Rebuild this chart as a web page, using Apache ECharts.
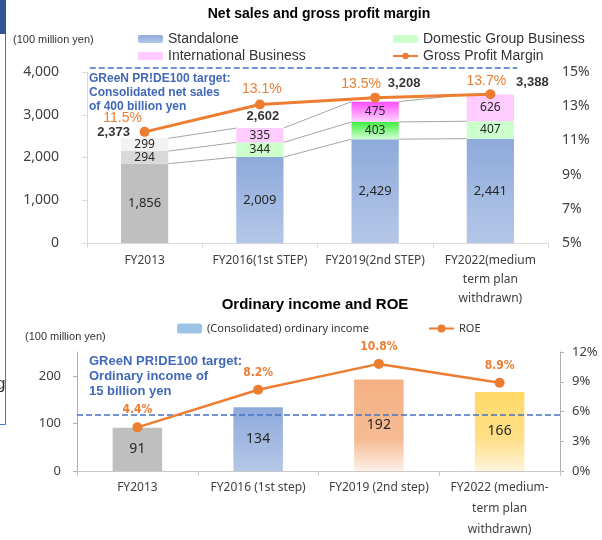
<!DOCTYPE html>
<html>
<head>
<meta charset="utf-8">
<script src="https://cdn.jsdelivr.net/npm/echarts@6/dist/echarts.min.js"></script>
<style>
html, body { margin: 0; padding: 0; background: #fff; }
#main { width: 602px; height: 540px; }
</style>
</head>
<body>
<div id="main"></div>
<script>
var salesYears = ['FY2013', 'FY2016(1st STEP)', 'FY2019(2nd STEP)', 'FY2022(medium\nterm plan\nwithdrawn)'];
var incomeYears = ['FY2013', 'FY2016 (1st step)', 'FY2019 (2nd step)', 'FY2022 (medium-\nterm plan\nwithdrawn)'];
var standalone = [1856, 2009, 2429, 2441];
var domestic = [294, 344, 403, 407];
var international = [299, 335, 475, 626];
var salesTotals = [2373, 2602, 3208, 3388];
var grossMargin = [11.5, 13.1, 13.5, 13.7];
var salesTarget = 4000;
var ordinaryIncome = [91, 134, 192, 166];
var roe = [4.4, 8.2, 10.8, 8.9];
var incomeTargetLine = 118;

var dom = document.getElementById('main');
var myChart = echarts.init(dom);

function grad(top, bottom, mid) {
	var stops = [{ offset: 0, color: top }];
	if (mid) stops.push({ offset: mid[0], color: mid[1] });
	stops.push({ offset: 1, color: bottom });
	return new echarts.graphic.LinearGradient(0, 0, 0, 1, stops);
}
function fmt(v) {
	return v.toLocaleString('en-US');
}

var blue = grad('#8eaadb', '#b4c7e7');
var standaloneColors = ['#bfbfbf', blue, blue, blue];
var domesticColors = ['#d9d9d9', '#ccffcc', grad('#3fee3f', '#d2ffd2'), '#ccffcc'];
var internationalColors = ['#f2f2f2', '#ffccff', grad('#ff4dff', '#ffd6ff'), '#ffccff'];
var incomeColors = ['#bfbfbf', grad('#8eaadb', '#b4c7e7'),
	grad('#f4b183', '#fdf0e8', [0.65, '#f6bb94']), grad('#ffd966', '#fff4dc', [0.6, '#ffe08a'])];

var totalOffsets = [[-31, 6], [3, 0], [29, -6], [42, 0]];
var marginOffsets = [[-22, 3], [2, 2], [-14, 3], [-4, 4]];

function colored(values, colors) {
	return values.map(function (v, i) {
		return { value: v, itemStyle: { color: colors[i] } };
	});
}

var connectorData = [];
for (var k = 0; k < standalone.length - 1; k++) connectorData.push([k, 0]);

// thin grey lines joining the stacked segments, drawn edge to edge
function renderConnectors(params, api) {
	var i = api.value(0);
	var half = api.size([1, 0])[0] * 0.205;
	var cumA = 0, cumB = 0;
	var children = [];
	[standalone, domestic, international].forEach(function (arr) {
		cumA += arr[i];
		cumB += arr[i + 1];
		var p1 = api.coord([i, cumA]);
		var p2 = api.coord([i + 1, cumB]);
		children.push({
			type: 'line',
			shape: { x1: p1[0] + half, y1: p1[1], x2: p2[0] - half, y2: p2[1] },
			style: { stroke: '#a6a6a6', lineWidth: 1 }
		});
	});
	return { type: 'group', children: children };
}

function renderTarget(params, api) {
	var band = api.size([1, 0])[0];
	var p1 = api.coord([0, api.value(1)]);
	var p2 = api.coord([salesYears.length - 1, api.value(1)]);
	return {
		type: 'line',
		shape: { x1: p1[0] - band * 0.476, y1: p1[1] - 4, x2: p2[0] + band * 0.234, y2: p2[1] - 4 },
		style: { stroke: '#4472c4', lineWidth: 1.5, lineDash: [6, 3] }
	};
}

var axisGray = '#d9d9d9';
var labelColor = '#404040';

option = {
	backgroundColor: '#ffffff',
	animation: false,
	textStyle: { fontFamily: 'Liberation Sans' },
	grid: [
		{ left: 87, right: 54, top: 72, bottom: 297 },
		{ left: 77, right: 42, top: 352, bottom: 63 }
	],
	legend: [
		{
			data: ['Standalone', 'International Business'],
			orient: 'vertical', left: 133, top: 27, itemGap: 3,
			itemWidth: 25, itemHeight: 8, selectedMode: false,
			textStyle: { fontSize: 14, color: '#333', fontFamily: 'Liberation Sans' }
		},
		{
			data: ['Domestic Group Business', 'Gross Profit Margin'],
			orient: 'vertical', left: 387, top: 27, itemGap: 3,
			itemWidth: 25, itemHeight: 8, selectedMode: false,
			textStyle: { fontSize: 14, color: '#333', fontFamily: 'Liberation Sans' }
		},
		{
			data: ['(Consolidated) ordinary income'],
			left: 172, top: 318, itemWidth: 25, itemHeight: 10, selectedMode: false,
			textStyle: { fontSize: 11, color: '#333', fontFamily: 'Noto Sans' }
		},
		{
			data: ['ROE'],
			left: 423, top: 318, itemWidth: 25, itemHeight: 10, selectedMode: false,
			textStyle: { fontSize: 11, color: '#333', fontFamily: 'Noto Sans' }
		}
	],
	xAxis: [
		{
			gridIndex: 0, type: 'category', data: salesYears,
			axisLine: { lineStyle: { color: axisGray } },
			axisTick: { show: true, length: 5, lineStyle: { color: axisGray } },
			axisLabel: { color: labelColor, fontSize: 12, fontFamily: 'Noto Sans', lineHeight: 19, margin: 8, interval: 0 }
		},
		{
			gridIndex: 1, type: 'category', data: incomeYears,
			axisLine: { lineStyle: { color: '#c8c8c8' } },
			axisTick: { show: true, length: 5, lineStyle: { color: '#c8c8c8' } },
			axisLabel: { color: labelColor, fontSize: 12, fontFamily: 'Noto Sans', lineHeight: 21, margin: 6, interval: 0 }
		}
	],
	yAxis: [
		{
			gridIndex: 0, type: 'value', min: 0, max: 4000, interval: 1000,
			axisLine: { show: true, lineStyle: { color: axisGray } },
			axisTick: { show: true, length: 5, lineStyle: { color: axisGray } },
			splitLine: { show: false },
			axisLabel: { color: labelColor, fontSize: 14, fontFamily: 'Noto Sans', margin: 28, formatter: function (v) { return fmt(v); } }
		},
		{
			gridIndex: 0, type: 'value', min: 5, max: 15, interval: 2, position: 'right',
			axisLine: { show: false }, axisTick: { show: false }, splitLine: { show: false },
			axisLabel: { color: labelColor, fontSize: 14, fontFamily: 'Noto Sans', margin: 14, formatter: '{value}%' }
		},
		{
			gridIndex: 1, type: 'value', min: 0, max: 250, interval: 100,
			axisLine: { show: true, lineStyle: { color: '#b0b0b0' } },
			axisTick: { show: true, length: 4, lineStyle: { color: '#b0b0b0' } },
			splitLine: { show: false },
			axisLabel: { color: labelColor, fontSize: 13, fontFamily: 'Noto Sans', margin: 16, showMaxLabel: false }
		},
		{
			gridIndex: 1, type: 'value', min: 0, max: 12, interval: 3, position: 'right',
			axisLine: { show: true, lineStyle: { color: '#b0b0b0' } },
			axisTick: { show: true, length: 4, lineStyle: { color: '#b0b0b0' } },
			splitLine: { show: false },
			axisLabel: { color: labelColor, fontSize: 13, fontFamily: 'Noto Sans', margin: 12, formatter: '{value}%' }
		}
	],
	series: [
		{
			name: 'Standalone', type: 'bar', stack: 'sales', barWidth: '41%',
			xAxisIndex: 0, yAxisIndex: 0,
			itemStyle: { color: blue },
			data: colored(standalone, standaloneColors),
			label: { show: true, position: 'inside', color: '#262626', fontSize: 13, fontFamily: 'Noto Sans', formatter: function (p) { return fmt(p.value); } }
		},
		{
			name: 'Domestic Group Business', type: 'bar', stack: 'sales',
			xAxisIndex: 0, yAxisIndex: 0,
			itemStyle: { color: '#ccffcc' },
			data: colored(domestic, domesticColors),
			label: { show: true, position: 'inside', color: '#262626', fontSize: 12, fontFamily: 'Noto Sans' }
		},
		{
			name: 'International Business', type: 'bar', stack: 'sales',
			xAxisIndex: 0, yAxisIndex: 0,
			itemStyle: { color: '#ffccff' },
			data: colored(international, internationalColors),
			label: { show: true, position: 'inside', color: '#262626', fontSize: 12, fontFamily: 'Noto Sans' }
		},
		{
			name: 'connectors', type: 'custom', xAxisIndex: 0, yAxisIndex: 0,
			renderItem: renderConnectors, data: connectorData, silent: true, z: 1,
			encode: { x: 0, y: 1 }
		},
		{
			name: 'salesTarget', type: 'custom', xAxisIndex: 0, yAxisIndex: 0,
			renderItem: renderTarget, data: [[0, salesTarget]], silent: true,
			encode: { x: 0, y: 1 }
		},
		{
			name: 'totals', type: 'scatter', xAxisIndex: 0, yAxisIndex: 0,
			symbolSize: 1, itemStyle: { color: 'rgba(0,0,0,0)' }, silent: true,
			data: salesTotals.map(function (t, i) {
				return {
					value: standalone[i] + domestic[i] + international[i],
					label: { offset: totalOffsets[i] }
				};
			}),
			label: {
				show: true, position: 'top', distance: 5, color: '#000', fontSize: 13, fontWeight: 'bold',
				fontFamily: 'Liberation Sans',
				formatter: function (p) { return fmt(salesTotals[p.dataIndex]); }
			}
		},
		{
			name: 'Gross Profit Margin', type: 'line', xAxisIndex: 0, yAxisIndex: 1,
			symbol: 'circle', symbolSize: 10, z: 5,
			lineStyle: { color: '#ed7d31', width: 3 },
			itemStyle: { color: '#ed7d31' },
			data: grossMargin.map(function (v, i) {
				return { value: v, label: { offset: marginOffsets[i] } };
			}),
			label: {
				show: true, position: 'top', distance: 5, color: '#ed7d31', fontSize: 14,
				fontFamily: 'Liberation Sans', formatter: '{c}%'
			}
		},
		{
			name: '(Consolidated) ordinary income', type: 'bar', barWidth: '41%',
			xAxisIndex: 1, yAxisIndex: 2,
			itemStyle: { color: '#9dc3e6' },
			data: colored(ordinaryIncome, incomeColors),
			label: { show: true, position: 'inside', color: '#262626', fontSize: 14, fontFamily: 'Noto Sans' },
			markLine: {
				silent: true, symbol: ['none', 'none'], label: { show: false },
				lineStyle: { color: '#4472c4', width: 1.5, type: [6, 3] },
				data: [{ yAxis: incomeTargetLine }]
			}
		},
		{
			name: 'ROE', type: 'line', xAxisIndex: 1, yAxisIndex: 3,
			symbol: 'circle', symbolSize: 10, z: 5,
			lineStyle: { color: '#ed7d31', width: 2.5 },
			itemStyle: { color: '#ed7d31' },
			data: roe,
			label: {
				show: true, position: 'top', distance: 6, color: '#ed7d31', fontSize: 12, fontWeight: 'bold',
				fontFamily: '"DejaVu Sans Condensed", "Liberation Sans"', formatter: '{c}%'
			}
		}
	],
	graphic: [
		{ type: 'rect', left: 0, top: 0, shape: { width: 6, height: 34 }, style: { fill: '#2f5597' } },
		{ type: 'polyline', shape: { points: [[5.5, 34], [5.5, 424.5], [0, 424.5]] }, style: { stroke: '#4472c4', lineWidth: 1, fill: null } },
		{ type: 'text', x: -4, y: 384, style: { text: 'g', font: '17px "Liberation Sans"', fill: '#333', verticalAlign: 'middle' } },
		{ type: 'text', x: 319, y: 14, style: { text: 'Net sales and gross profit margin', font: 'bold 14px "Liberation Sans"', fill: '#000', align: 'center', verticalAlign: 'middle' } },
		{ type: 'text', x: 315, y: 305, style: { text: 'Ordinary income and ROE', font: 'bold 15px "Liberation Sans"', fill: '#000', align: 'center', verticalAlign: 'middle' } },
		{ type: 'text', x: 13, y: 40, style: { text: '(100 million yen)', font: '11px "Liberation Sans"', fill: '#333', verticalAlign: 'middle' } },
		{ type: 'text', x: 25, y: 337, style: { text: '(100 million yen)', font: '11px "Liberation Sans"', fill: '#333', verticalAlign: 'middle' } },
		{ type: 'text', x: 89, y: 72, style: { text: 'GReeN PR!DE100 target:\nConsolidated net sales\nof 400 billion yen', font: 'bold 12px "Liberation Sans"', lineHeight: 14, fill: '#4169b8' } },
		{ type: 'text', x: 89, y: 354, style: { text: 'GReeN PR!DE100 target:\nOrdinary income of\n15 billion yen', font: 'bold 13px "Liberation Sans"', lineHeight: 15, fill: '#4169b8' } }
	]
};

if (option && typeof option === 'object') {
	myChart.setOption(option, true);
}
</script>
</body>
</html>
